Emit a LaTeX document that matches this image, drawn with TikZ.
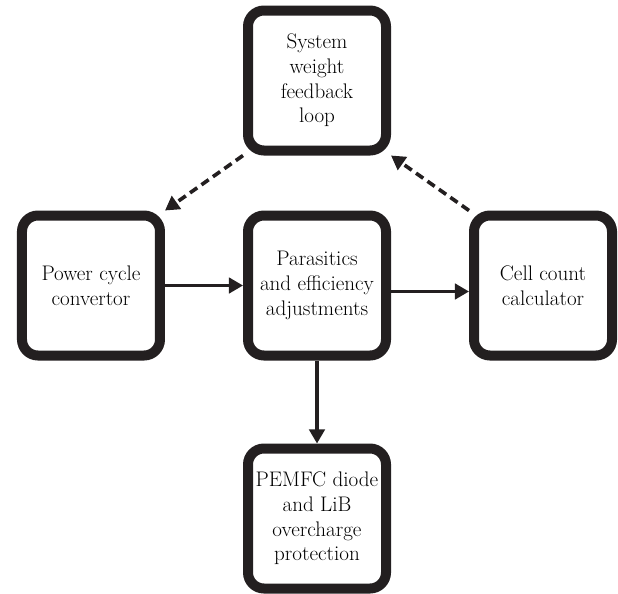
\documentclass[tikz,border=0pt]{standalone}
\usepackage{tikz}
\usetikzlibrary{shapes, arrows.meta, positioning}
\definecolor{ink}{HTML}{231F20}

\begin{document}
\begin{tikzpicture}[node distance=1.95cm, auto, thin]

\tikzstyle{block} = [rectangle, draw=ink, line width=0.25cm, text centered, align=center, rounded corners=0.4cm, minimum width=3.45cm, minimum height=3.5cm, font=\fontsize{15}{17.5}\selectfont]
\tikzstyle{flow} = [draw=ink, line width=2.2pt, -{Triangle[length=10pt,width=11pt]}]
\tikzstyle{feedback} = [flow, line width=2.6pt, dash pattern=on 0.22cm off 0.13cm]

\useasboundingbox (-7.925,-7.6875) rectangle (7.525,7.1375);

% Nodes
\node[block] (adjust) {Parasitics\\ and efficiency\\ adjustments};
\node[block, left=of adjust] (power) {Power cycle\\ convertor};
\node[block, right=of adjust] (cells) {Cell count\\ calculator};
\node[block, above=1.375cm of adjust] (weight) {System\\ weight\\ feedback\\ loop};
\node[block, below=2.075cm of adjust] (protect) {PEMFC diode\\ and LiB\\ overcharge\\ protection};

% Connections
\draw[flow] (power) -- (adjust);
\draw[flow] ([yshift=-0.15cm]adjust.east) -- ([yshift=-0.15cm]cells.west);
\draw[flow] (adjust) -- (protect);
\draw[feedback] (cells.north west) -- (weight.south east);
\draw[feedback] (weight.south west) -- (power.north east);

\end{tikzpicture}
\end{document}
